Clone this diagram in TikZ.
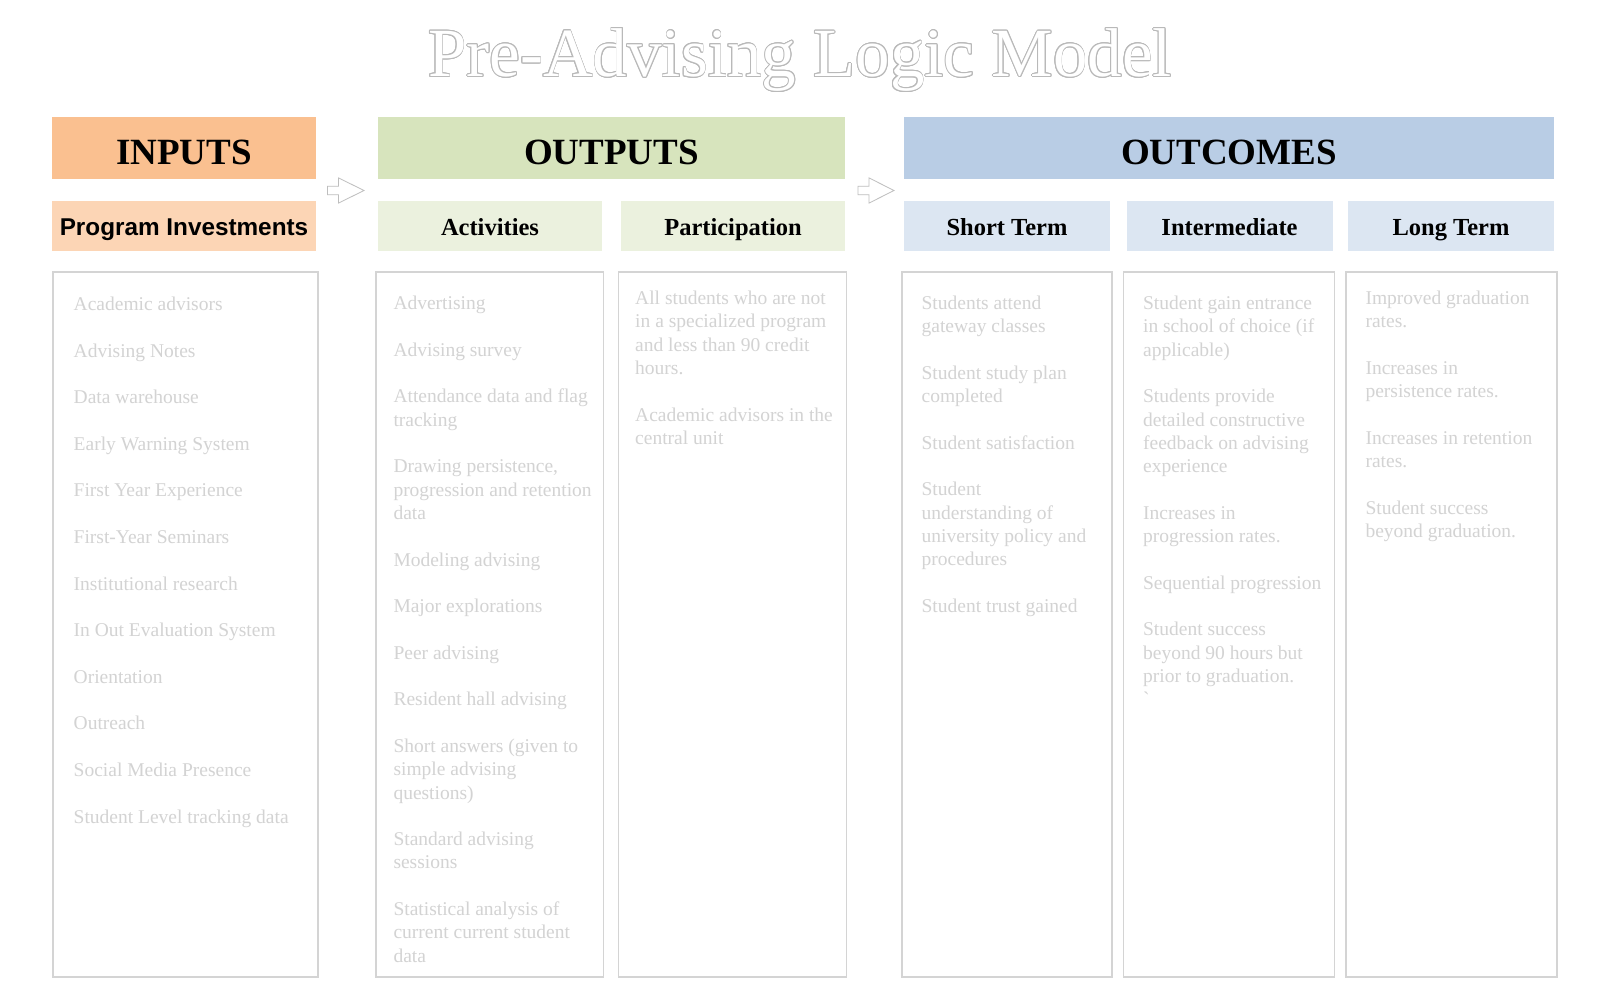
\documentclass[tikz,border=0pt]{standalone}
\usepackage{fontspec}
\setmainfont{Liberation Serif}
\newfontfamily\hsans{Liberation Sans}
\definecolor{inH}{HTML}{FAC090}
\definecolor{inS}{HTML}{FCD5B5}
\definecolor{outH}{HTML}{D7E4BD}
\definecolor{outS}{HTML}{EBF1DE}
\definecolor{ocH}{HTML}{B9CDE5}
\definecolor{ocS}{HTML}{DCE6F2}
\definecolor{itemgray}{RGB}{211,211,211}
\definecolor{boxgray}{RGB}{212,212,212}
\definecolor{ttlgray}{RGB}{185,185,185}
\definecolor{arrgray}{RGB}{190,190,190}
\newcommand\myoutline[1]{\leavevmode\foreach \a in {0,22.5,...,337.5}{\pgfmathsetlengthmacro\dx{0.75pt*cos(\a)}\pgfmathsetlengthmacro\dy{0.75pt*sin(\a)}\rlap{\kern\dx\raisebox{\dy}{\textcolor{ttlgray}{#1}}}}\textcolor{white}{#1}}
\tikzset{
  mainhdr/.style={inner sep=0pt, text height=47.5pt, text depth=14.5pt, minimum height=62pt,
    font=\fontsize{37}{40}\selectfont\bfseries, text=black},
  subhdr/.style={inner sep=0pt, text height=34.5pt, text depth=15.5pt, minimum height=50pt,
    font=\fontsize{24.5}{28}\selectfont\bfseries, text=black},
  contentbox/.style={draw=boxgray, line width=1.2pt, fill=white, minimum height=705pt, inner sep=0pt},
  items/.style={anchor=north west, align=left, inner sep=0pt,
    font=\fontsize{19.5}{23.3}\selectfont, text=itemgray},
  blockarrow/.style={draw=arrgray, line width=0.8pt, fill=white, line join=miter},
}
\begin{document}
\begin{tikzpicture}[x=1pt,y=-1pt]
\useasboundingbox[fill=white] (0,0) rectangle (1600,1000);

% title
\node[anchor=base, inner sep=0pt, font=\fontsize{69}{72}\selectfont] (title) at (800,76.5)
  {\myoutline{Pre-Advising Logic Model}};

% main headers
\node[mainhdr, fill=inH, minimum width=264pt] (inputs) at (184,148) {INPUTS};
\node[mainhdr, fill=outH, minimum width=467pt] (outputs) at (611.5,148) {OUTPUTS};
\node[mainhdr, fill=ocH, minimum width=650pt] (outcomes) at (1229,148) {OUTCOMES};

% sub headers
\node[subhdr, fill=inS, minimum width=264pt, font=\hsans\fontsize{24.3}{28}\selectfont\bfseries] (prog) at (184,226) {Program Investments};
\node[subhdr, fill=outS, minimum width=224pt] (act) at (490,226) {Activities};
\node[subhdr, fill=outS, minimum width=224pt] (part) at (733,226) {Participation};
\node[subhdr, fill=ocS, minimum width=206pt] (short) at (1007,226) {Short Term};
\node[subhdr, fill=ocS, minimum width=206pt] (inter) at (1229.5,226) {Intermediate};
\node[subhdr, fill=ocS, minimum width=206pt] (long) at (1451,226) {Long Term};

% block arrows
\draw[blockarrow, shift={(327.5,190.5)}] (0,-4.25) -- (11,-4.25) -- (11,-12.6) -- (36.5,0) -- (11,12.6) -- (11,4.25) -- (0,4.25) -- cycle;
\draw[blockarrow, shift={(858,190.5)}] (0,-4.25) -- (11,-4.25) -- (11,-12.6) -- (36,0) -- (11,12.6) -- (11,4.25) -- (0,4.25) -- cycle;

% content boxes
\node[contentbox, minimum width=265pt] (inbox) at (185.5,624.5) {};
\node[contentbox, minimum width=227.5pt] (actbox) at (489.75,624.5) {};
\node[contentbox, minimum width=228pt] (partbox) at (732.5,624.5) {};
\node[contentbox, minimum width=210pt] (shortbox) at (1007,624.5) {};
\node[contentbox, minimum width=211pt] (interbox) at (1229,624.5) {};
\node[contentbox, minimum width=211pt] (longbox) at (1451.5,624.5) {};

% content texts (first baseline = y + 16.31)
\node[items] (intext) at (73.5,294.0) {\strut Academic advisors\\[23.3pt]Advising Notes\\[23.3pt]Data warehouse\\[23.3pt]Early Warning System\\[23.3pt]First Year Experience\\[23.3pt]First-Year Seminars\\[23.3pt]Institutional research\\[23.3pt]In Out Evaluation System\\[23.3pt]Orientation\\[23.3pt]Outreach\\[23.3pt]Social Media Presence\\[23.3pt]Student Level tracking data};

\node[items] (acttext) at (393.3,293.2) {\strut Advertising\\[23.3pt]Advising survey\\[23.3pt]Attendance data and flag\\tracking\\[23.3pt]Drawing persistence,\\progression and retention\\data\\[23.3pt]Modeling advising\\[23.3pt]Major explorations\\[23.3pt]Peer advising\\[23.3pt]Resident hall advising\\[23.3pt]Short answers (given to\\simple advising\\questions)\\[23.3pt]Standard advising\\sessions\\[23.3pt]Statistical analysis of\\current current student\\data};

\node[items] (parttext) at (635,288.0) {\strut All students who are not\\in a specialized program\\and less than 90 credit\\hours.\\[23.3pt]Academic advisors in the\\central unit};

\node[items] (shorttext) at (921.4,293.0) {\strut Students attend\\gateway classes\\[23.3pt]Student study plan\\completed\\[23.3pt]Student satisfaction\\[23.3pt]Student\\understanding of\\university policy and\\procedures\\[23.3pt]Student trust gained};

\node[items] (intertext) at (1142.9,293.0) {\strut Student gain entrance\\in school of choice (if\\applicable)\\[23.3pt]Students provide\\detailed constructive\\feedback on advising\\experience\\[23.3pt]Increases in\\progression rates.\\[23.3pt]Sequential progression\\[23.3pt]Student success\\beyond 90 hours but\\prior to graduation.\\\textasciigrave};

\node[items] (longtext) at (1365.3,288.0) {\strut Improved graduation\\rates.\\[23.3pt]Increases in\\persistence rates.\\[23.3pt]Increases in retention\\rates.\\[23.3pt]Student success\\beyond graduation.};
\end{tikzpicture}
\end{document}
